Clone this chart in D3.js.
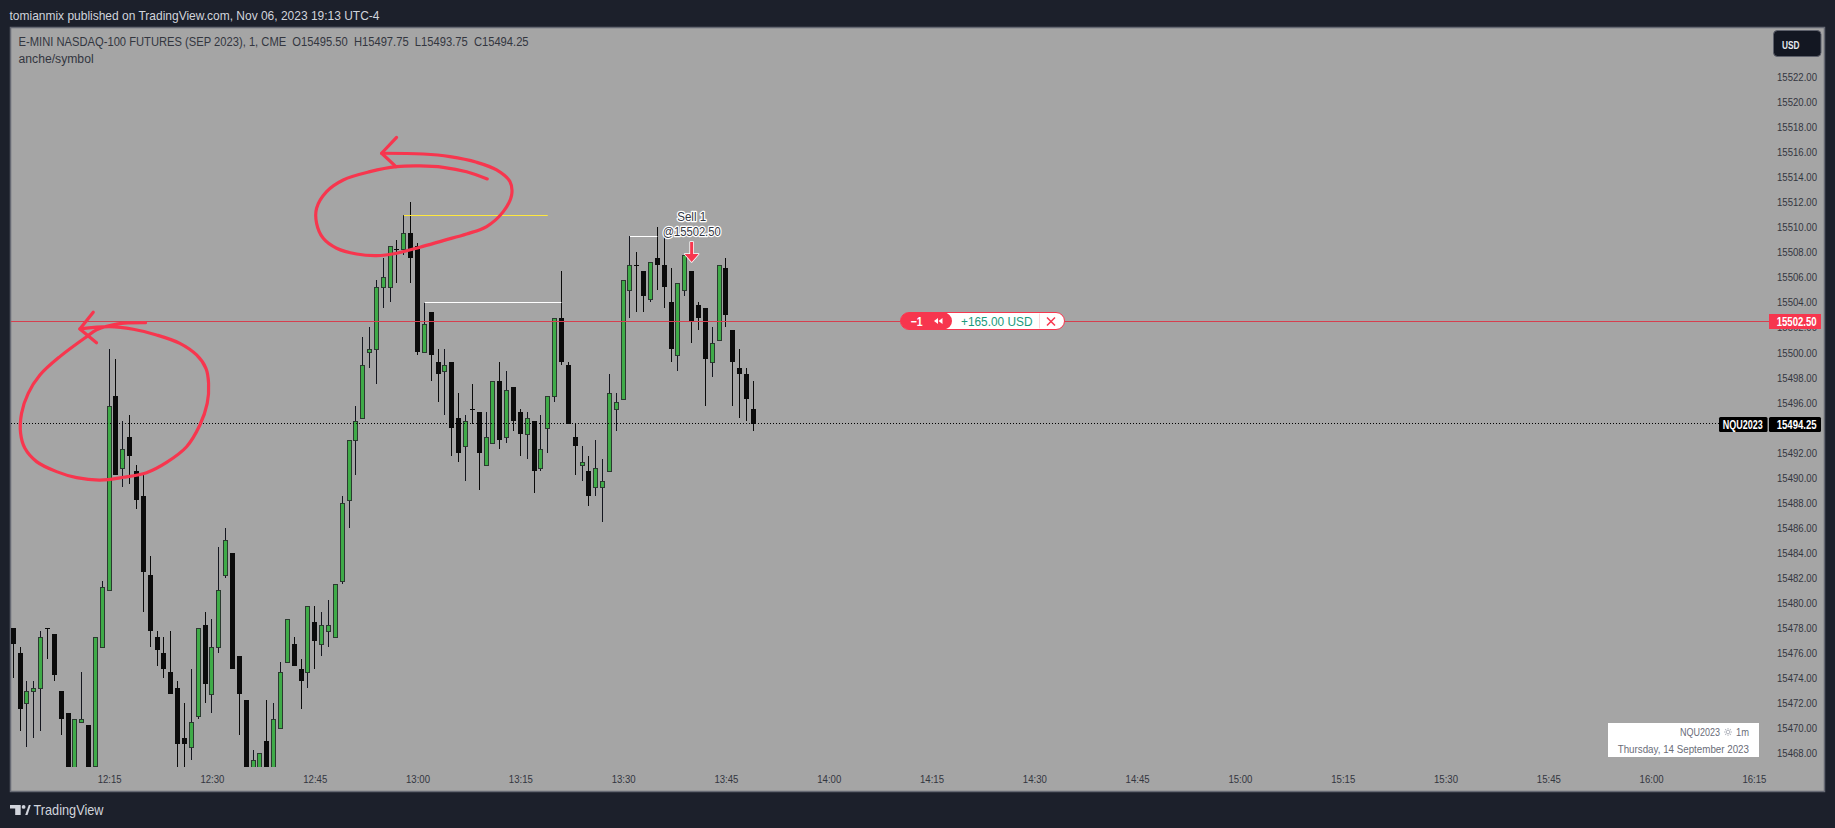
<!DOCTYPE html>
<html>
<head>
<meta charset="utf-8">
<script src="https://cdn.jsdelivr.net/npm/d3@7"></script>
<style>
  html, body { margin: 0; padding: 0; background: #1c202b; overflow: hidden; }
  svg { display: block; font-family: "Liberation Sans", Arial, sans-serif; }
</style>
</head>
<body>
<div id="chart"></div>
<script>
// one bar a minute, first bar is 12:01 (minute 1 = minutes after 12:00)
const firstMinute = 1
const opens = [15478,15476,15472,15473,15473.25,15478,15477.5,15473,15471.25,15466,
  15470.5,15470.25,15467,15476.5,15481,15496.5,15490.75,15493.25,15490.5,15488.5,
  15482.25,15477.25,15476,15474.5,15473.25,15469.25,15468.5,15471,15478.25,15472.75,
  15476.5,15482.25,15484,15475.75,15472.25,15466,15466,15469,15466,15470,
  15475.25,15476.75,15474.75,15474.5,15478.5,15476.75,15477.75,15477.25,15481.75,15488.25,
  15493,15494.75,15500,15500.25,15505.25,15505.25,15508.25,15508.25,15509.5,15508.5,
  15500,15503.25,15499.25,15498.5,15499.25,15494.75,15492.5,15495.5,15495.25,15491,
  15492.75,15497.75,15493.25,15497.25,15495.25,15493.5,15494.5,15490.75,15494,15496.5,
  15502.75,15499,15493.25,15491,15490.5,15489.25,15489.25,15490.5,15495.5,15496.25,
  15505,15507,15506.5,15504.25,15507.5,15507,15504,15499.75,15505,15506.5,
  15503.75,15503.5,15499.25,15501,15506.75,15501.75,15498.75,15498.25,15495.5]
const highs = [15478,15476.5,15473.75,15473.75,15477.75,15478,15477.5,15473,15471.25,15470.75,
  15474.5,15470.25,15477.25,15481.75,15500.25,15499.5,15494.5,15495,15491,15490.25,
  15483.75,15477.75,15477.25,15477.75,15473.75,15472,15474.75,15478,15479.25,15478.75,
  15484.5,15486,15484,15475.75,15472.25,15468.25,15468,15472.25,15472,15475.25,
  15478.75,15477.25,15475.5,15479.75,15479.75,15479.25,15480.25,15481.5,15488.5,15493,
  15495.75,15501.25,15502,15505.75,15507.5,15508.5,15509,15511,15512,15508.75,
  15504,15503.25,15500.25,15500.25,15499.25,15496.75,15495,15497.5,15495.25,15495.25,
  15497.75,15499.25,15498.5,15497.25,15495.5,15495.25,15494.5,15495,15496.5,15502.75,
  15506.5,15499.25,15494.25,15492.5,15491.75,15493,15491.5,15498.25,15496.75,15505.75,
  15509.25,15508,15506.5,15507.25,15510,15509.25,15506.75,15505.5,15507.75,15506.5,
  15504,15503.5,15502,15507,15507.5,15501.75,15500.25,15498.75,15497.75]
const lows = [15474,15469.75,15468.5,15469.25,15469.75,15475.5,15473.75,15469.5,15466,15466,
  15470.5,15466,15467,15476.5,15481,15490.25,15489.25,15489.5,15487.5,15479.25,
  15476.5,15475,15474,15472.75,15466,15466,15467.5,15470.75,15472,15471.25,
  15476,15482,15474.75,15469.5,15466,15466,15466,15466,15466,15470,
  15475.25,15475,15471.5,15473.25,15474.75,15475.75,15476.5,15477.25,15481.5,15486,
  15490.25,15494.75,15498.75,15497.5,15503.5,15504,15505.5,15507.75,15505.5,15499.75,
  15500,15497.75,15496,15495,15491.75,15491.25,15489.75,15494.25,15489,15491,
  15492.75,15492.25,15492.75,15493.75,15491.75,15491.5,15488.75,15490.5,15492,15496,
  15499,15494.25,15490.25,15489.75,15487.75,15488.5,15486.5,15490.5,15493.75,15496.25,
  15502.75,15503.25,15503.25,15504,15505,15503.5,15499.25,15498.5,15504.5,15500.75,
  15501.75,15495.75,15498,15501,15502,15495.75,15494.75,15494.5,15493.75]
const closes = [15476.75,15471.5,15473,15473.25,15477.25,15478,15474.25,15470.75,15466,15470.75,
  15470.75,15466,15477.25,15481.25,15495.75,15490.25,15492.25,15491.75,15488.25,15482.5,
  15477.75,15476.25,15474.75,15472.75,15468.75,15468.75,15470.5,15478,15473.5,15476.5,
  15481,15485,15474.75,15472.75,15466,15467.5,15468,15466,15470.75,15474.5,
  15478.75,15475,15473.75,15479.75,15477,15478.25,15478.25,15481.5,15488,15493,
  15494.5,15499,15500.25,15505.25,15506,15508.5,15508.25,15509.5,15507.5,15500,
  15502.25,15499.75,15498.25,15499,15494,15492,15494.5,15495.5,15492,15493.25,
  15497.75,15493,15497,15494.5,15493.5,15494.75,15490.5,15492.25,15496.5,15502.75,
  15499.25,15494.25,15492.5,15491.25,15488.5,15490.75,15489.75,15496.75,15496,15505.75,
  15507,15507,15504.5,15507.25,15507,15505.25,15500.25,15505.5,15507.75,15502.5,
  15502.75,15499.5,15500.75,15507,15503,15499.25,15498.25,15496.25,15494.25]

// 15494.00 sits right under the last price tag so it is left out
const priceTicks = d3.range(15468, 15523, 2).filter(p => p != 15494)
const timeTicks = d3.range(15, 256, 15)
const positionPrice = 15502.5
const lastPrice = 15494.25
const sellMinute = 100

// [from minute, to minute, price]
const yellowLevels = [[58, 79, 15511]]
const whiteLevels = [[61, 81, 15504], [91, 95, 15509.25]]

// freehand drawings, [minute, price]
const leftCircle = [[20.31,15502.37],[16.08,15502.26],[13.16,15501.79],[11.71,15501.25],[7.81,15499.66],
  [4.9,15498.19],[3.19,15496.73],[2.22,15495.13],[2.08,15493.54],[2.71,15492.34],[4.41,15491.28],
  [7.33,15490.48],[10.25,15490],[13.65,15489.81],[17.06,15490.03],[20.46,15490.4],[23.38,15491.22],
  [26.3,15492.47],[28.24,15494.2],[29.31,15495.93],[29.51,15497.53],[29.12,15498.73],[27.76,15499.79],
  [25.32,15500.72],[21.92,15501.39],[18.52,15501.84],[15.11,15502.05],[10.73,15501.87]]
const leftArrow = [[12.68,15503.2],[10.73,15501.87],[13.16,15500.77]]
const topCircle = [[70.17,15513.84],[67.16,15514.42],[63.75,15514.77],[60.35,15514.88],[56.94,15514.82],
  [53.05,15514.42],[49.16,15513.76],[46.73,15512.83],[45.27,15511.5],[45.27,15510.3],[46.24,15509.1],
  [48.19,15508.31],[51.11,15507.85],[54.03,15507.72],[56.94,15507.91],[60.35,15508.39],[63.75,15508.92],
  [67.16,15509.45],[70.08,15510.04],[72.51,15511.23],[73.73,15512.56],[73.48,15513.63],[71.54,15514.56],
  [68.62,15515.17],[64.73,15515.62],[60.84,15515.83],[54.76,15515.89]]
const topArrow = [[56.94,15517.16],[54.76,15515.89],[56.85,15514.82]]

const W = 1835, H = 828
const paneL = 11, paneR = 1824, paneT = 28, paneB = 791, plotB = 767
const barW = 5
const red = "#f7364e", green = "#3fab48", greenEdge = "#2b3a30", black = "#0b0b0b", axisInk = "#33363f"

const x = d3.scaleLinear().domain([1, 255]).range([13.2, 1753.9])
const y = d3.scaleLinear().domain([15522, 15468]).range([76.7, 753.3])

const bars = opens.map((o, i) => ({ minute: firstMinute + i, o: o, h: highs[i], l: lows[i], c: closes[i] }))

const svg = d3.select("#chart").append("svg").attr("width", W).attr("height", H)

// fits text to the width it has in the reference
function label(g, px, py, str, w, size, fill, anchor, weight) {
  return g.append("text")
    .attr("x", px).attr("y", py)
    .attr("dominant-baseline", "central")
    .attr("text-anchor", anchor || "start")
    .attr("textLength", w)
    .attr("lengthAdjust", "spacingAndGlyphs")
    .style("font-size", size + "px")
    .style("font-weight", weight || "normal")
    .attr("fill", fill)
    .text(str)
}

svg.append("rect").attr("width", W).attr("height", H).attr("fill", "#1c202b")
svg.append("rect")
  .attr("x", paneL - 0.5).attr("y", paneT - 0.5)
  .attr("width", paneR - paneL + 1).attr("height", paneB - paneT + 1)
  .attr("fill", "#a5a5a5").attr("stroke", "#666973").attr("stroke-width", 1.5)

svg.append("clipPath").attr("id", "plot-clip").append("rect")
  .attr("x", paneL).attr("y", paneT).attr("width", 1758).attr("height", plotB - paneT)

label(svg, 9.5, 15, "tomianmix published on TradingView.com, Nov 06, 2023 19:13 UTC-4", 370, 13, "#d1d4dc")
label(svg, 18.6, 41.5, "E-MINI NASDAQ-100 FUTURES (SEP 2023), 1, CME  O15495.50  H15497.75  L15493.75  C15494.25", 510, 12.5, "#33363f").style("white-space", "pre")
label(svg, 18.6, 59, "anche/symbol", 75, 12.5, "#33363f")

// axes
const priceAxis = svg.append("g")
  .attr("transform", "translate(1817,0)")
  .call(d3.axisLeft(y).tickValues(priceTicks).tickSize(0).tickPadding(0).tickFormat(d3.format(".2f")))
priceAxis.select(".domain").remove()
priceAxis.selectAll("text")
  .attr("fill", axisInk)
  .attr("textLength", 40).attr("lengthAdjust", "spacingAndGlyphs")
  .style("font-size", "11.5px").style("font-family", "'Liberation Sans'")

const timeAxis = svg.append("g")
  .attr("transform", "translate(0,772)")
  .call(d3.axisBottom(x).tickValues(timeTicks).tickSize(0).tickPadding(3)
    .tickFormat(m => d3.format("02")(12 + Math.floor(m / 60)) + ":" + d3.format("02")(m % 60)))
timeAxis.select(".domain").remove()
timeAxis.selectAll("text")
  .attr("fill", axisInk)
  .attr("textLength", 24).attr("lengthAdjust", "spacingAndGlyphs")
  .style("font-size", "11.5px").style("font-family", "'Liberation Sans'")

// candles
const plot = svg.append("g").attr("clip-path", "url(#plot-clip)")
const px = m => Math.floor(x(m))
const py = p => Math.round(y(p))

plot.selectAll("rect.wick").data(bars).enter().append("rect")
  .attr("class", "wick")
  .attr("x", d => px(d.minute))
  .attr("y", d => py(d.h))
  .attr("width", 1)
  .attr("height", d => Math.max(1, py(d.l) - py(d.h)))
  .attr("fill", d => d.c > d.o ? "#14161f" : black)

plot.selectAll("rect.body").data(bars).enter().append("rect")
  .attr("class", "body")
  .attr("shape-rendering", "crispEdges")
  .attr("x", d => d.c > d.o ? px(d.minute) - 1.5 : px(d.minute) - 2)
  .attr("y", d => d.c > d.o ? py(d.c) + 0.5 : py(Math.max(d.o, d.c)))
  .attr("width", d => d.c > d.o ? barW - 1 : barW)
  .attr("height", d => d.c > d.o ? Math.max(1, py(d.o) - py(d.c)) : Math.max(1, py(d.c) - py(d.o)))
  .attr("fill", d => d.c > d.o ? green : black)
  .attr("stroke", d => d.c > d.o ? greenEdge : "none")
  .attr("stroke-width", 1)

// horizontal rays
plot.selectAll("line.yellow").data(yellowLevels).enter().append("line")
  .attr("x1", d => x(d[0])).attr("x2", d => x(d[1]))
  .attr("y1", d => py(d[2]) + 0.5).attr("y2", d => py(d[2]) + 0.5)
  .attr("stroke", "#ffe83d").attr("stroke-width", 1)
plot.selectAll("line.white").data(whiteLevels).enter().append("line")
  .attr("x1", d => x(d[0])).attr("x2", d => x(d[1]))
  .attr("y1", d => py(d[2]) + 0.5).attr("y2", d => py(d[2]) + 0.5)
  .attr("stroke", "#ffffff").attr("stroke-width", 1)

// position line and last price line
svg.append("line")
  .attr("x1", paneL).attr("x2", 1769)
  .attr("y1", py(positionPrice) + 0.5).attr("y2", py(positionPrice) + 0.5)
  .attr("stroke", "#d5404f").attr("stroke-width", 1)
svg.append("line")
  .attr("x1", paneL).attr("x2", 1719)
  .attr("y1", py(lastPrice) - 0.5).attr("y2", py(lastPrice) - 0.5)
  .attr("stroke", "#000").attr("stroke-width", 1).attr("stroke-dasharray", "1 2")

// freehand circles
const sketch = d3.line().x(d => x(d[0])).y(d => y(d[1]))
const smooth = d3.line().x(d => x(d[0])).y(d => y(d[1])).curve(d3.curveCatmullRom)
;[leftCircle, topCircle].forEach(c => {
  svg.append("path").attr("d", smooth(c))
    .attr("fill", "none").attr("stroke", red).attr("stroke-width", 3.2).attr("stroke-linecap", "round")
})
;[leftArrow, topArrow].forEach(c => {
  svg.append("path").attr("d", sketch(c))
    .attr("fill", "none").attr("stroke", red).attr("stroke-width", 3.2).attr("stroke-linecap", "round").attr("stroke-linejoin", "round")
})

// sell marker
const sellX = x(sellMinute), sellI = sellMinute - firstMinute
const sellTop = py(highs[sellI])
const arrowTip = sellTop - 9
svg.append("path")
  .attr("d", d3.line()([[sellX - 1.5, arrowTip - 20], [sellX + 1.5, arrowTip - 20], [sellX + 1.5, arrowTip - 8], [sellX + 7, arrowTip - 8],
    [sellX, arrowTip], [sellX - 7, arrowTip - 8], [sellX - 1.5, arrowTip - 8]]) + "Z")
  .attr("fill", red).attr("stroke", "#fff").attr("stroke-width", 1.5).attr("stroke-linejoin", "round").style("paint-order", "stroke")
;[["Sell 1", 217, 29], ["@15502.50", 231.5, 58]].forEach(t => {
  label(svg, sellX, t[1], t[0], t[2], 12.5, "#33363f", "middle")
    .attr("stroke", "#fff").attr("stroke-width", 2.6).attr("stroke-linejoin", "round").style("paint-order", "stroke")
})

// position pill
const pillY = py(positionPrice) - 8.5
svg.append("rect").attr("x", 900.5).attr("y", pillY).attr("width", 164).attr("height", 17).attr("rx", 8.5)
  .attr("fill", "#fff").attr("stroke", red)
svg.append("rect").attr("x", 900.5).attr("y", pillY).attr("width", 51.5).attr("height", 17).attr("rx", 8.5).attr("fill", red)
svg.append("line").attr("x1", 1039.5).attr("x2", 1039.5).attr("y1", pillY + 1).attr("y2", pillY + 16).attr("stroke", "#fbd5da")
label(svg, 910.7, pillY + 9, "\u22121", 12, 13, "#fff", "start", "bold")
;[934, 938.5].forEach(a => {
  svg.append("path").attr("d", d3.line()([[a, pillY + 8.5], [a + 4, pillY + 5.5], [a + 4, pillY + 11.5]]) + "Z").attr("fill", "#fff")
})
label(svg, 961, pillY + 9, "+165.00 USD", 71.5, 13, "#1a9a7c")
svg.append("path").attr("d", `M1047 ${pillY + 5}L1055 ${pillY + 13}M1055 ${pillY + 5}L1047 ${pillY + 13}`)
  .attr("stroke", red).attr("stroke-width", 1.5).attr("fill", "none")

// price tags
svg.append("rect").attr("x", 1769).attr("y", 314).attr("width", 52).attr("height", 15).attr("fill", red)
label(svg, 1776.7, 321.8, d3.format(".2f")(positionPrice), 40, 12, "#fff", "start", "bold")
svg.append("rect").attr("x", 1719).attr("y", 417).attr("width", 48.5).attr("height", 15).attr("rx", 1.5).attr("fill", "#000")
svg.append("rect").attr("x", 1769).attr("y", 417).attr("width", 52).attr("height", 15).attr("rx", 1.5).attr("fill", "#000")
label(svg, 1722.7, 425, "NQU2023", 40, 12, "#fff", "start", "bold")
label(svg, 1776.7, 425, d3.format(".2f")(lastPrice), 40, 12, "#fff", "start", "bold")

// currency button
svg.append("rect").attr("x", 1773.5).attr("y", 30.5).attr("width", 47.5).attr("height", 26).attr("rx", 4)
  .attr("fill", "#131722").attr("stroke", "#5d606b")
label(svg, 1782, 44.5, "USD", 17.5, 10.5, "#e6e8ee", "start", "bold")

// symbol stamp, the sun is a small drawn icon
svg.append("rect").attr("x", 1608).attr("y", 723).attr("width", 151).attr("height", 34).attr("fill", "#fff")
label(svg, 1680, 732, "NQU2023", 40, 11, "#6a6d78")
const sun = svg.append("g").attr("transform", "translate(1728,732)").attr("stroke", "#b2b5be").attr("fill", "none")
sun.append("circle").attr("r", 1.8)
d3.range(0, 360, 45).forEach(a => {
  sun.append("line").attr("x1", 2.6).attr("x2", 4).attr("transform", "rotate(" + a + ")")
})
label(svg, 1736, 732, "1m", 13, 11, "#6a6d78")
label(svg, 1617.7, 749, "Thursday, 14 September 2023", 131.3, 11, "#6a6d78")

// footer logo
svg.append("path").attr("d", "M10 805H20.7V815H15.2V808.6H10Z").attr("fill", "#d1d4dc")
svg.append("circle").attr("cx", 23.6).attr("cy", 806.9).attr("r", 1.9).attr("fill", "#d1d4dc")
svg.append("path").attr("d", "M25.2 815L28.8 805H30.8L27.5 815Z").attr("fill", "#d1d4dc")
label(svg, 33.5, 810, "TradingView", 70, 14.5, "#d1d4dc")
</script>
</body>
</html>
